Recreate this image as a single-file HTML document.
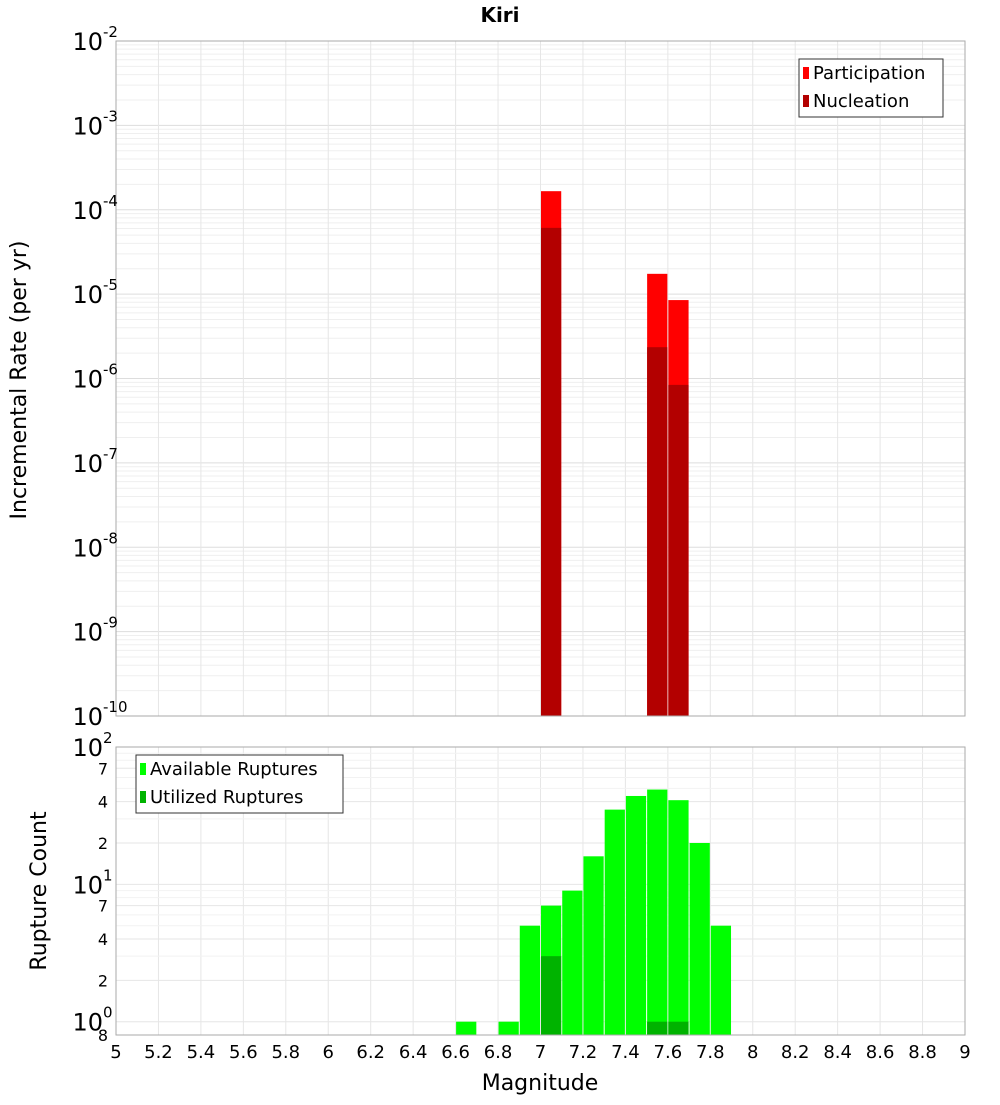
<!DOCTYPE html>
<html><head><meta charset="utf-8"><style>
body{margin:0;background:#fff;font-family:"Liberation Sans","DejaVu Sans",sans-serif}
svg text{font-family:"DejaVu Sans","Liberation Sans",sans-serif}
</style></head><body>
<svg id="c" width="1000" height="1100" xmlns="http://www.w3.org/2000/svg"></svg>
<script>
const mags=[6.65,6.75,6.85,6.95,7.05,7.15,7.25,7.35,7.45,7.55,7.65,7.75,7.85];
const partMags=[7.05,7.55,7.65];
const participation=[1.66e-4,1.74e-5,8.5e-6];
const nucleation=[6.1e-5,2.35e-6,8.4e-7];
const available=[1,0,1,5,7,9,16,35,44,49,41,20,5];
const utilized=[0,0,0,0,3,0,0,0,0,1,1,0,0];
const xTicks=[5,5.2,5.4,5.6,5.8,6,6.2,6.4,6.6,6.8,7,7.2,7.4,7.6,7.8,8,8.2,8.4,8.6,8.8,9];
const topExps=[-2,-3,-4,-5,-6,-7,-8,-9,-10];
const botTicks=[[100,"10","2"],[70,"7",""],[40,"4",""],[20,"2",""],[10,"10","1"],[7,"7",""],[4,"4",""],[2,"2",""],[1,"10","0"],[0.8,"8",""]];

const svg=document.getElementById('c');const NS='http://www.w3.org/2000/svg';
function el(t,a,p){const e=document.createElementNS(NS,t);for(const k in a)e.setAttribute(k,a[k]);(p||svg).appendChild(e);return e;}
const X0=116,X1=965;
const x=m=>X0+(m-5)/4*(X1-X0);
const T0=41,T1=716;
const yT=v=>T0+(-2-Math.log10(v))/8*(T1-T0);
const B0=747,B1=1035;
const lb0=Math.log10(0.8),lb1=2;
const yB=v=>B0+(lb1-Math.log10(v))/(lb1-lb0)*(B1-B0);

// title
let t=el('text',{x:500,y:22,'text-anchor':'middle','font-size':20,'font-weight':'bold'});t.textContent='Kiri';


// top grid
for(let e=-10;e<-2;e++)for(let k=1;k<10;k++){const v=k*Math.pow(10,e);const yy=yT(v);
 const g=el('line',{x1:X0,x2:X1,y1:yy,y2:yy,stroke:k==1?'#dddddd':'#efefef','stroke-width':1});}
for(const m of xTicks){for(const [a,b] of [[T0,T1],[B0,B1]]){const g=el('line',{x1:x(m),x2:x(m),y1:a,y2:b,stroke:'#e6e6e6'});}}
// bottom grid
for(const [v] of botTicks){const g=el('line',{x1:X0,x2:X1,y1:yB(v),y2:yB(v),stroke:'#e6e6e6'});}
for(const v of [3,5,6,8,9,30,50,60,80,90]){const g=el('line',{x1:X0,x2:X1,y1:yB(v),y2:yB(v),stroke:'#f2f2f2'});}

// top bars
partMags.forEach((m,i)=>{
 let r=el('rect',{x:x(m-0.05)+0.5,width:x(m+0.05)-x(m-0.05)-1,y:yT(participation[i]),height:T1-yT(participation[i]),fill:'#ff0000'});
 
 r=el('rect',{x:x(m-0.05)+0.5,width:x(m+0.05)-x(m-0.05)-1,y:yT(nucleation[i]),height:T1-yT(nucleation[i]),fill:'#b30000'});
 
});
// bottom bars
mags.forEach((m,i)=>{
 if(available[i]>0){let r=el('rect',{x:x(m-0.05)+0.5,width:x(m+0.05)-x(m-0.05)-1,y:yB(available[i]),height:B1-yB(available[i]),fill:'#00ff00'});
 }
 if(utilized[i]>0){let r=el('rect',{x:x(m-0.05)+0.5,width:x(m+0.05)-x(m-0.05)-1,y:yB(utilized[i]),height:B1-yB(utilized[i]),fill:'#00b300'});
 }
});

// frames
let f=el('rect',{x:X0,y:T0,width:X1-X0,height:T1-T0,fill:'none',stroke:'#aaaaaa'});
f=el('rect',{x:X0,y:B0,width:X1-X0,height:B1-B0,fill:'none',stroke:'#aaaaaa'});

// top y tick labels
topExps.forEach(e=>{const yy=yT(Math.pow(10,e));
 const tx=el('text',{x:103,y:yy+9,'text-anchor':'end','font-size':24});tx.textContent='10';
 
 const s=el('text',{x:103,y:yy-4,'font-size':15});s.textContent=String(e);
 });
// bottom y tick labels
botTicks.forEach(([v,l,ex])=>{const yy=yB(v);
 const big=ex!=='';
 const tx=el('text',{x:big?103:108,y:yy+(big?9:6),'text-anchor':'end','font-size':big?24:16});tx.textContent=l;
 
 if(big){const s=el('text',{x:103,y:yy-4,'font-size':15});s.textContent=ex;}});
// x tick labels
xTicks.forEach(m=>{const tx=el('text',{x:x(m),y:1058,'text-anchor':'middle','font-size':18});tx.textContent=String(m);
 });

// axis titles
t=el('text',{x:540,y:1090,'text-anchor':'middle','font-size':22});t.textContent='Magnitude';
t=el('text',{x:0,y:0,'text-anchor':'middle','font-size':22,transform:'translate(26,380) rotate(-90)'});t.textContent='Incremental Rate (per yr)';
t=el('text',{x:0,y:0,'text-anchor':'middle','font-size':22,transform:'translate(46,891) rotate(-90)'});t.textContent='Rupture Count';

// legends
function legend(bx,by,w,items,name){const g=el('g',{});
 el('rect',{x:bx,y:by,width:w,height:58,fill:'#fff',stroke:'#333'},g);
 items.forEach(([c,l],i)=>{el('rect',{x:bx+4,y:by+8+i*28,width:6,height:12,fill:c},g);
  const tx=el('text',{x:bx+14,y:by+20+i*28,'font-size':18},g);tx.textContent=l;});}
legend(799,59,144,[['#ff0000','Participation'],['#b30000','Nucleation']],'rate-legend');
legend(136,755,207,[['#00ff00','Available Ruptures'],['#00b300','Utilized Ruptures']],'count-legend');
</script>
</body></html>
